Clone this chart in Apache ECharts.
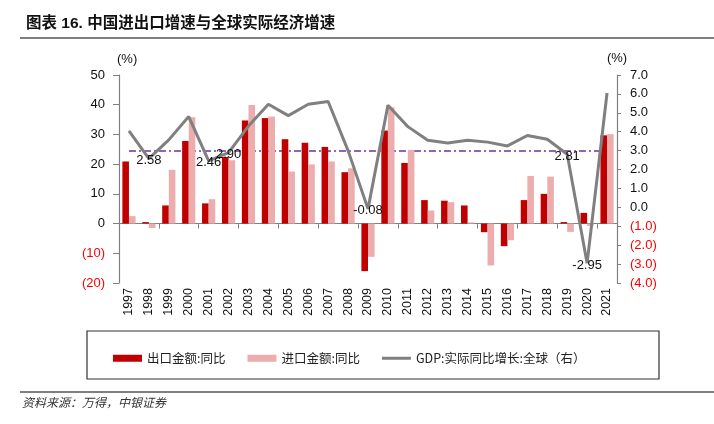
<!DOCTYPE html>
<html>
<head>
<meta charset="utf-8">
<script src="https://cdn.jsdelivr.net/npm/echarts@6/dist/echarts.min.js"></script>
<style>
html,body{margin:0;padding:0;background:#fff;}
#c{width:714px;height:424px;}
</style>
</head>
<body>
<div id="c"></div>
<script>
var years = ['1997','1998','1999','2000','2001','2002','2003','2004','2005','2006','2007','2008','2009','2010','2011','2012','2013','2014','2015','2016','2017','2018','2019','2020','2021'];
var exportYoY = [20.9, 0.5, 6.1, 27.8, 6.8, 22.4, 34.7, 35.5, 28.4, 27.2, 25.8, 17.3, -16.0, 31.3, 20.4, 7.9, 7.7, 6.1, -2.9, -7.6, 7.9, 10.0, 0.5, 3.6, 29.7];
var importYoY = [2.5, -1.5, 18.1, 35.8, 8.2, 21.3, 39.9, 36.0, 17.5, 19.9, 20.9, 18.6, -11.2, 39.2, 24.8, 4.4, 7.2, 0.4, -14.1, -5.6, 16.0, 15.8, -2.8, -0.8, 30.1];
var worldGdp = [4.05, 2.58, 3.57, 4.8, 2.46, 2.90, 4.3, 5.45, 4.85, 5.45, 5.6, 3.0, -0.08, 5.4, 4.27, 3.55, 3.4, 3.55, 3.45, 3.25, 3.8, 3.6, 2.81, -2.95, 6.05];
var labeledYears = ['1998','2001','2002','2009','2019','2020'];
var refLevel = 3.0;
var leftTicks = {min: -20, max: 50, interval: 10};
var rightTicks = {min: -4, max: 7, interval: 1};
var seriesNames = ['出口金额:同比', '进口金额:同比', 'GDP:实际同比增长:全球（右）'];

var gdpData = worldGdp.map(function (v, i) {
  if (labeledYears.indexOf(years[i]) >= 0) {
    return {
      value: v, symbol: 'circle', symbolSize: 0,
      label: {show: true, position: 'inside', offset: [0, 2], formatter: v.toFixed(2),
        color: '#111', fontSize: 13, fontFamily: 'Liberation Sans, Arial, sans-serif'}
    };
  }
  return v;
});

var chart = echarts.init(document.getElementById('c'), null, {renderer: 'canvas'});
var fontA = 'Liberation Sans, Arial, sans-serif';
chart.setOption({
  animation: false,
  backgroundColor: '#fff',
  title: {
    text: '图表 16. 中国进出口增速与全球实际经济增速',
    left: 21, top: 11,
    textStyle: {fontSize: 15.5, fontWeight: 'bold', color: '#111', fontFamily: 'Liberation Sans, Noto Sans CJK SC, sans-serif'}
  },
  graphic: [
    {type: 'line', shape: {x1: 20, y1: 38, x2: 714, y2: 38}, style: {stroke: '#555', lineWidth: 1.5}},
    {type: 'rect', shape: {x: 87, y: 331, width: 572, height: 48}, style: {fill: 'none', stroke: '#333', lineWidth: 1.2}},
    {type: 'line', shape: {x1: 20, y1: 392, x2: 714, y2: 392}, style: {stroke: '#555', lineWidth: 1.5}},
    {type: 'text', left: 22, top: 396, style: {text: '资料来源：万得，中银证券', fill: '#333', font: 'italic 12px "Noto Sans CJK SC", sans-serif'}}
  ],
  legend: {
    left: 108, top: 347,
    itemWidth: 29, itemHeight: 7, itemGap: 22,
    textStyle: {fontSize: 12.5, color: '#222', fontFamily: 'Noto Sans CJK SC, sans-serif'},
    data: [
      {name: seriesNames[0], icon: 'rect'},
      {name: seriesNames[1], icon: 'rect'},
      {name: seriesNames[2], icon: 'path://M0,0H29V3H0Z', itemStyle: {color: '#808080'}}
    ]
  },
  grid: {left: 119, right: 97, top: 75, bottom: 141, containLabel: false},
  xAxis: [
    {
      type: 'category', data: years, position: 'bottom',
      axisLine: {onZero: true, onZeroAxisIndex: 0, lineStyle: {color: '#808080', width: 1.2}},
      axisTick: {show: true, interval: 1, length: 5, lineStyle: {color: '#808080'}},
      axisLabel: {show: false},
      splitLine: {show: false}
    },
    {
      type: 'category', data: years, position: 'bottom',
      axisLine: {show: false, onZero: false},
      axisTick: {show: false},
      axisLabel: {show: true, rotate: 90, margin: 5, fontSize: 12.5, color: '#111', fontFamily: fontA, interval: 0},
      splitLine: {show: false}
    }
  ],
  yAxis: [
    {
      type: 'value', min: leftTicks.min, max: leftTicks.max, interval: leftTicks.interval,
      name: '(%)', nameLocation: 'end', nameGap: 9,
      nameTextStyle: {fontSize: 13, color: '#111', fontFamily: fontA, align: 'left', padding: [0, 0, 0, -2]},
      axisLine: {show: true, lineStyle: {color: '#808080', width: 1.2}},
      axisTick: {show: true, length: 6, lineStyle: {color: '#808080'}},
      axisLabel: {
        margin: 14, fontSize: 13, color: '#111', fontFamily: fontA,
        formatter: function (v) { return v < 0 ? '{n|(' + (-v) + ')}' : String(v); },
        rich: {n: {color: '#FF0000', fontSize: 13, fontFamily: fontA}}
      },
      splitLine: {show: false}
    },
    {
      type: 'value', min: rightTicks.min, max: rightTicks.max, interval: rightTicks.interval,
      name: '(%)', nameLocation: 'end', nameGap: 10,
      nameTextStyle: {fontSize: 13, color: '#111', fontFamily: fontA},
      axisLine: {show: true, lineStyle: {color: '#808080', width: 1.2}},
      axisTick: {show: true, length: 4, lineStyle: {color: '#808080'}},
      axisLabel: {
        margin: 13, fontSize: 13, color: '#111', fontFamily: fontA,
        formatter: function (v) { return v < 0 ? '{n|(' + (-v).toFixed(1) + ')}' : v.toFixed(1); },
        rich: {n: {color: '#FF0000', fontSize: 13, fontFamily: fontA}}
      },
      splitLine: {show: false}
    }
  ],
  series: [
    {
      name: seriesNames[0], type: 'bar', xAxisIndex: 0, yAxisIndex: 0,
      data: exportYoY, barWidth: 6.6, barGap: '0%', z: 2,
      itemStyle: {color: '#C00000'}
    },
    {
      name: seriesNames[1], type: 'bar', xAxisIndex: 0, yAxisIndex: 0,
      data: importYoY, barWidth: 6.6, barGap: '0%', z: 2,
      itemStyle: {color: '#EBADAD'}
    },
    {
      name: seriesNames[2], type: 'line', xAxisIndex: 0, yAxisIndex: 1,
      data: gdpData, symbol: 'none', z: 3,
      lineStyle: {color: '#808080', width: 3},
      itemStyle: {color: '#808080'},
      markLine: {
        silent: true, symbol: 'none', z: 1,
        label: {show: false},
        lineStyle: {color: '#7030A0', type: [7, 3, 2, 3], width: 1.5},
        data: [[{coord: [years[0], refLevel]}, {coord: [years[years.length - 1], refLevel]}]]
      }
    }
  ]
});
</script>
</body>
</html>
